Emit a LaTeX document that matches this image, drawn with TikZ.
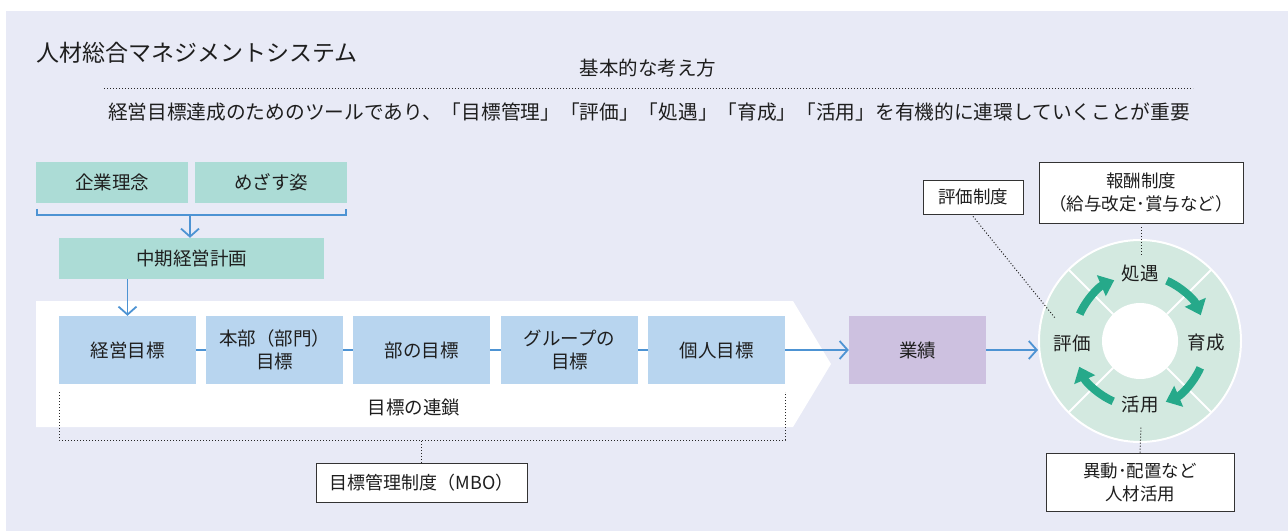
\documentclass[tikz,border=0pt]{standalone}
\usepackage{fontspec}
\setmainfont{Noto Sans CJK JP}
\usetikzlibrary{arrows.meta}
\definecolor{cbg}{RGB}{232,234,246}
\definecolor{cteal}{RGB}{172,220,214}
\definecolor{cblue}{RGB}{184,213,239}
\definecolor{cpurple}{RGB}{205,193,224}
\definecolor{cring}{RGB}{211,233,224}
\definecolor{cgreen}{RGB}{38,169,138}
\definecolor{cline}{RGB}{77,147,211}
\definecolor{ctext}{RGB}{30,30,30}
\begin{document}
\begin{tikzpicture}[x=1pt,y=1pt,
  every node/.style={text=ctext, inner sep=0pt},
  fs18/.style={font=\fontsize{18.5}{23}\selectfont},
  topbox/.style={fs18, fill=cteal, minimum height=41pt},
  goal/.style={fs18, fill=cblue, minimum width=137pt, minimum height=68pt, align=center},
  note/.style={font=\fontsize{17.5}{23}\selectfont, draw=black!80, fill=white, line width=0.8pt, align=center},
  lbl/.style={fs18},
  conn/.style={cline, line width=1.8pt, -{Straight Barb[length=8pt,width=18pt]}},
  plain/.style={cline, line width=1.8pt},
  dots/.style={black!85, line width=1pt, dash pattern=on 1pt off 2pt},
  cyc/.style={cgreen, line width=8pt, -{Triangle[length=14pt,width=22pt]}}
]
\useasboundingbox (0,0) rectangle (1288,531);
\fill[cbg] (6,0) rectangle (1288,520);

% header
\node[anchor=west, font=\fontsize{23}{28}\selectfont] (title) at (36,478) {人材総合マネジメントシステム};
\node[font=\fontsize{19.5}{24}\selectfont] (kihon) at (648,463) {基本的な考え方};
\coordinate (dl) at (104,442);
\coordinate (dr) at (1193,442);
\draw[dots] (dl) -- (dr);
\node[font=\fontsize{19.7}{24}\selectfont] (sub) at (649,419) {経営目標達成のためのツールであり、「目標管理」「評価」「処遇」「育成」「活用」を有機的に連環していくことが重要};

% top boxes
\node[topbox, minimum width=152pt] (kigyo) at (112,348.5) {企業理念};
\node[topbox, minimum width=152pt] (mezasu) at (271,348.5) {めざす姿};
\node[topbox, minimum width=265pt] (chuki) at (191.5,272.5) {中期経営計画};
\coordinate (bl) at (37,322);
\coordinate (br) at (346,322);
\coordinate (bm) at (190,316);
\draw[plain] (bl) -- (37,316) -- (346,316) -- (br);
\draw[conn] (bm) -- (bm |- chuki.north);

% chain band
\fill[white] (36,230) -- (793,230) -- (831,167) -- (793,104) -- (36,104) -- cycle;
\node[goal] (g1) at (127.5,181) {経営目標};
\node[goal] (g2) at (274.5,181) {本部（部門）\\目標};
\node[goal] (g3) at (421.5,181) {部の目標};
\node[goal] (g4) at (569.5,181) {グループの\\目標};
\node[goal] (g5) at (716.5,181) {個人目標};
\node[goal, fill=cpurple] (gyo) at (917.5,181) {業績};
\draw[conn] (g1.north |- chuki.south) -- (g1.north);
\draw[plain] (g1.east) -- (g2.west);
\draw[plain] (g2.east) -- (g3.west);
\draw[plain] (g3.east) -- (g4.west);
\draw[plain] (g4.east) -- (g5.west);
\draw[conn] (g5.east) -- (gyo.west);
\node[fs18] (rensa) at (414,124) {目標の連鎖};

% MBO bracket
\draw[dots] (59,139) -- (59,91) -- (785,91) -- (785,139);
\node[note, font=\fontsize{18}{23}\selectfont, minimum width=211pt, minimum height=39pt] (mbo) at (421.5,48.5) {目標管理制度（MBO）};
\draw[dots] (mbo.north) -- (421.5,91);

% ring
\node[circle, fill=cring, draw=white, line width=2pt, minimum size=202pt] (ring) at (1140,190) {};
\foreach \a in {45,135,225,315}
  \draw[white, line width=2pt] (ring.center) ++(\a:38) -- ++(\a:63);
\node[circle, fill=white, minimum size=76pt] (hub) at (1140,190) {};
\draw[conn] (gyo.east) -- (gyo.east -| ring.west);
\node[lbl] (shogu) at (1140,258) {処遇};
\node[lbl] (ikusei) at (1206,188) {育成};
\node[lbl] (katsuyo) at (1140,126) {活用};
\node[lbl] (hyoka) at (1072,188) {評価};
\draw[cyc] (ring.center) ++(156:66) arc[start angle=156, end angle=113, radius=66];
\draw[cyc] (ring.center) ++(66:66) arc[start angle=66, end angle=23, radius=66];
\draw[cyc] (ring.center) ++(-24:66) arc[start angle=-24, end angle=-67, radius=66];
\draw[cyc] (ring.center) ++(-114:66) arc[start angle=-114, end angle=-157, radius=66];

% notes
\node[note, minimum width=100pt, minimum height=34pt] (hyoseido) at (973,334) {評価制度};
\node[note, minimum width=204pt, minimum height=61pt] (hoshu) at (1141,338.5) {報酬制度\\（給与改定･賞与など）};
\node[note, minimum width=188pt, minimum height=58pt] (idou) at (1140,49) {異動･配置など\\人材活用};
\coordinate (hyEnd) at (1055,213);
\coordinate (hoEnd) at (1141,276);
\coordinate (idEnd) at (1141,104);
\draw[dots] ([yshift=-2pt]hyoseido.south) -- (hyEnd);
\draw[dots] ([yshift=-4pt]hoshu.south) -- (hoEnd);
\draw[dots] (idou.north) -- (idEnd);
\end{tikzpicture}
\end{document}
